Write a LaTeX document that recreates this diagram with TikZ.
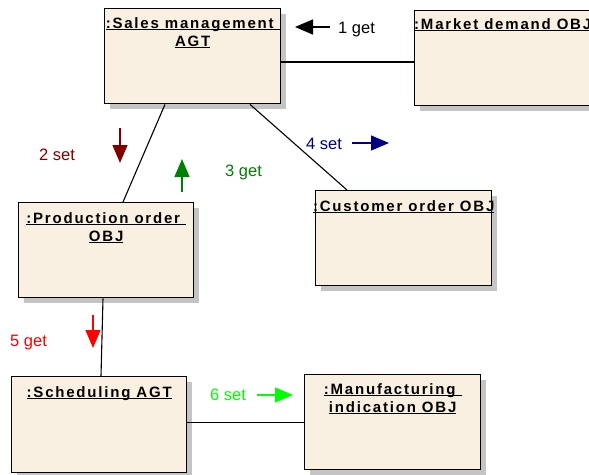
\documentclass[tikz,border=0pt]{standalone}
\usepackage{fontspec}
\setmainfont{Liberation Sans}
\newfontfamily\objfont{Liberation Sans}[LetterSpace=12]
\usetikzlibrary{arrows.meta,shadows}

\definecolor{objfill}{RGB}{250,240,225}
\definecolor{shadowgray}{RGB}{196,196,196}
\definecolor{msgdarkred}{RGB}{128,0,0}
\definecolor{msggreen}{RGB}{0,128,0}
\definecolor{msgnavy}{RGB}{0,0,128}
\definecolor{msgred}{RGB}{255,0,0}
\definecolor{msglime}{RGB}{0,255,0}

% underlined object name; the rule sits just under the baseline
\newcommand\objname[1]{\setbox0\hbox{#1}\rlap{\rule[-1.9pt]{\wd0}{1.1pt}}\box0}

\tikzset{
  objbox/.style={draw=black, line width=1.4pt, fill=objfill, anchor=north west,
    rectangle, inner sep=0pt, minimum width=#1, minimum height=95pt,
    drop shadow={shadow xshift=5pt, shadow yshift=-5pt, fill=shadowgray, opacity=1}},
  objbox/.default=176pt,
  objtitle/.style={anchor=base, inner sep=0pt, align=center,
    font=\objfont\bfseries\fontsize{15}{18}\selectfont},
  link/.style={draw=black, line width=1.1pt},
  msg/.style={line width=1.5pt, -{Triangle[length=18pt,width=15pt]}},
  msgtext/.style={anchor=base west, inner sep=0pt, font=\fontsize{16.5}{18}\selectfont},
}

\begin{document}
\begin{tikzpicture}[x=1pt,y=-1pt]
\useasboundingbox (0,0) rectangle (589,474);
\begin{scope}
\clip (0,0) rectangle (589,474);

% objects
\node[objbox] (sales) at (104,8) {};
\node[objbox] (mkt) at (414,10) {};
\node[objbox] (cust) at (315,190) {};
\node[objbox=175pt] (prod) at (18,202) {};
\node[objbox=175pt, minimum height=96pt] (sched) at (11,376) {};
\node[objbox] (manuf) at (304,374) {};

% object names (a two-line name hangs from the baseline of its last line)
\node[objtitle] (salesT) at ([yshift=-38pt]sales.north) {\objname{:Sales management\ }\\\objname{AGT}};
\node[objtitle] (mktT) at ([yshift=-19pt]mkt.north) {\objname{:Market demand OBJ}};
\node[objtitle] (custT) at ([yshift=-21pt]cust.north) {\objname{:Customer order OBJ}};
\node[objtitle] (prodT) at ([yshift=-39pt]prod.north) {\objname{:Production order\ }\\\objname{OBJ}};
\node[objtitle] (schedT) at ([yshift=-21pt]sched.north) {\objname{:Scheduling AGT}};
\node[objtitle] (manufT) at ([yshift=-38pt]manuf.north) {\objname{:Manufacturing\ }\\\objname{indication OBJ}};

% links
\draw[link] (sales.east |- 0,62) -- (mkt.west |- 0,62);
\draw[link] ([xshift=61pt]sales.south west) -- ([xshift=105pt]prod.north west);
\draw[link] ([xshift=146pt]sales.south west) -- ([xshift=32pt]cust.north west);
\draw[link] ([xshift=85pt]prod.south west) -- ([xshift=90pt]sched.north west);
\draw[link] (sched.east |- manuf.west) -- (manuf.west);

% messages
\draw[msg, black] (330,27) -- (295,27);
\node[msgtext, black] (m1) at (338,33) {1 get};

\draw[msg, msgdarkred] (120,128) -- (120,163);
\node[msgtext, msgdarkred] (m2) at (39,160) {2 set};

\draw[msg, msggreen] (182,192) -- (182,159);
\node[msgtext, msggreen] (m3) at (225,176) {3 get};

\draw[msg, msgnavy] (352,143) -- (389,143);
\node[msgtext, msgnavy] (m4) at (306,149) {4 set};

\draw[msg, msgred] (93,315) -- (93,348);
\node[msgtext, msgred] (m5) at (10,346) {5 get};

\draw[msg, msglime] (257,395) -- (293,395);
\node[msgtext, msglime] (m6) at (210,400.5) {6 set};
\end{scope}
\end{tikzpicture}
\end{document}
